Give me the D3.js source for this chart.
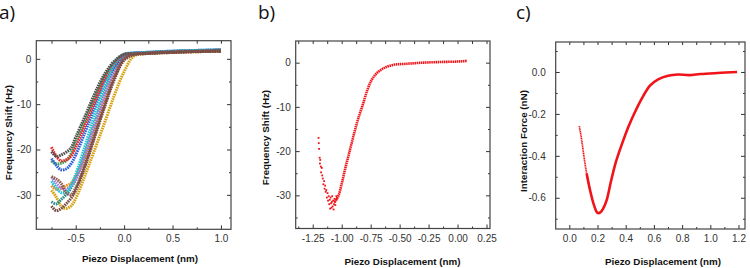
<!DOCTYPE html>
<html lang="en">
<head>
<meta charset="UTF-8">
<title>Piezo Displacement Curves</title>
<script src="https://d3js.org/d3.v7.min.js"></script>
<style>
  body { margin: 0; background: #fff; }
  svg { display: block; }
  .tick text { font-family: "Liberation Sans", Arial, sans-serif; font-size: 10px; fill: #333; }
  .tick line { stroke: #333; stroke-width: 1; }
  .title { font-family: "Liberation Sans", Arial, sans-serif; font-weight: bold; font-size: 9.8px; fill: #111; }
  .panel-label { font-family: "Open Sans", sans-serif; font-size: 19px; fill: #111; }
</style>
</head>
<body>
<div id="chart"></div>
<script>
// ---- panel a : approach curves, all sampled at the same displacements
var aX = [-0.75, -0.7, -0.65, -0.6, -0.55, -0.5, -0.4, -0.3, -0.2, -0.1, 0.0, 0.1, 0.2, 0.5, 1.0];
var aGold     = [-29, -30.5, -32.5, -33, -32.5, -30.8, -25.5, -19.8, -14, -8, -2.8, 0.6, 1.1, 1.4, 1.7];
var aOrange   = [-28, -28.8, -28.5, -28, -27.5, -26, -21.5, -15.5, -9.2, -3.5, 0.2, 1.0, 1.2, 1.5, 1.8];
var aGreen    = [-22.5, -23.2, -23, -22.5, -21, -18.5, -13.5, -8.5, -4, -0.8, 1.0, 1.2, 1.3, 1.6, 1.9];
var aTeal     = [-31.5, -32, -31, -30, -28.5, -26.5, -20.5, -14, -7.5, -2.2, 0.6, 1.1, 1.2, 1.5, 1.8];
var aLavender = [-26, -27.5, -28.5, -28.8, -28, -26.5, -21, -14.5, -8, -2.8, 0.5, 1.2, 1.3, 1.6, 1.9];
var aBlue     = [-22, -23.5, -24.5, -24.3, -23.2, -21.2, -16, -10.5, -5.5, -1.8, 0.8, 1.3, 1.4, 1.7, 2.0];
var aRed      = [-19.5, -21.5, -22.5, -22.3, -21.5, -19.5, -14.5, -9.3, -4.5, -1.2, 0.9, 1.2, 1.3, 1.6, 1.9];
var aCyan     = [-27, -28.5, -29.5, -29.5, -28, -25.5, -19, -12, -6, -1.2, 1.0, 1.3, 1.4, 1.7, 2.0];
var aGray     = [-20.5, -21.5, -21.2, -20.6, -19.7, -17.3, -12.5, -7.5, -3.3, -0.5, 1.0, 1.1, 1.2, 1.5, 1.8];
var aBrown    = [-26, -26.5, -27.5, -29.5, -30, -28.5, -23, -16.5, -10, -4, 0.0, 1.0, 1.2, 1.5, 1.7];
var aBrown2   = [-32.5, -33.5, -33, -32, -30.8, -29, -23.5, -17, -10.5, -4.5, -0.3, 0.9, 1.1, 1.4, 1.7];
var aSeries = [aGold, aOrange, aGreen, aTeal, aLavender, aBlue, aRed, aCyan, aGray, aBrown, aBrown2];
var aColors = ["#d4a20f", "#f5891a", "#3c9e58", "#2b8c8c", "#a57fdc", "#2f5fd9", "#e8262b", "#22c3d2", "#505050", "#8c5a4e", "#7a4a40"];

// ---- panel b : single approach curve
var bNoiseX = [-1.2, -1.198, -1.195, -1.19, -1.188, -1.185, -1.18, -1.178, -1.172, -1.168, -1.163, -1.158, -1.152, -1.148,
  -1.143, -1.138, -1.133, -1.128, -1.122, -1.118, -1.112, -1.108, -1.103, -1.1, -1.096, -1.092, -1.088, -1.085, -1.082,
  -1.078, -1.074, -1.07, -1.066, -1.062, -1.058, -1.055, -1.05, -1.046, -1.042];
var bNoiseY = [-17, -18.2, -19.5, -21.5, -22.8, -22, -23.5, -24.8, -23.8, -25.5, -26.2, -27.5, -26.8, -28.5,
  -27.8, -29.2, -28.8, -30.5, -29.5, -31.2, -30.2, -32, -31, -33, -30.5, -31.8, -32.8, -31.5, -30.2,
  -32.5, -31.2, -33.2, -32, -30.8, -31.5, -32.2, -31, -30.2, -30.8];
var bX = [-1.06, -1.03, -1.0, -0.972, -0.943, -0.914, -0.885, -0.857, -0.814, -0.779, -0.741, -0.698, -0.641, -0.555, -0.44, -0.3, -0.15, 0.0, 0.08];
var bY = [-31.5, -30.2, -27.4, -24.2, -21.2, -18.2, -15.2, -12.6, -9.2, -6.2, -3.9, -2.4, -1.3, -0.5, -0.25, 0, 0.15, 0.25, 0.4];

// ---- panel c : interaction force
var cX = [0.071, 0.088, 0.104, 0.123, 0.147, 0.175, 0.2, 0.22, 0.24, 0.265, 0.296, 0.33, 0.37, 0.42, 0.47, 0.52, 0.572, 0.63, 0.7, 0.77, 0.85, 0.93, 1.05, 1.19];
var cY = [-0.258, -0.325, -0.404, -0.484, -0.563, -0.635, -0.672, -0.670, -0.652, -0.611, -0.52, -0.43, -0.35, -0.26, -0.185, -0.12, -0.065, -0.035, -0.018, -0.012, -0.015, -0.01, -0.005, 0.0];

// ---- ticks
var aXTicks = [-0.5, 0, 0.5, 1.0], aXMinor = [-0.75, -0.25, 0.25, 0.75];
var aYTicks = [0, -10, -20, -30], aYMinor = [-35, -25, -15, -5];
var bXTicks = [-1.25, -1, -0.75, -0.5, -0.25, 0, 0.25], bXMinor = [-1.375, -1.125, -0.875, -0.625, -0.375, -0.125, 0.125];
var bYTicks = [0, -10, -20, -30], bYMinor = [-35, -25, -15, -5];
var cXTicks = [0, 0.2, 0.4, 0.6, 0.8, 1.0, 1.2], cXMinor = [0.1, 0.3, 0.5, 0.7, 0.9, 1.1];
var cYTicks = [0, -0.2, -0.4, -0.6], cYMinor = [0.1, -0.1, -0.3, -0.5, -0.7];

var svg = d3.select("#chart").append("svg").attr("width", 750).attr("height", 268);

function fmt(spec) {
  var f = d3.format(spec);
  return function (d) { return f(d).replace("\u2212", "-"); };
}

function panel(o) {
  var x = d3.scaleLinear().domain(o.xDomain).range([o.left, o.right]);
  var y = d3.scaleLinear().domain(o.yDomain).range([o.bottom, o.top]);
  var g = svg.append("g");

  o.draw(g, x, y);

  function strip(s) { s.select(".domain").remove(); }

  // major + minor ticks on all four sides, pointing inward
  g.append("g").attr("transform", "translate(0," + o.bottom + ")")
    .call(d3.axisBottom(x).tickValues(o.xTicks).tickFormat(fmt(o.xFmt)).tickSizeInner(-4).tickSizeOuter(0).tickPadding(6)).call(strip);
  g.append("g").attr("transform", "translate(0," + o.bottom + ")")
    .call(d3.axisBottom(x).tickValues(o.xMinor).tickFormat("").tickSizeInner(-2).tickSizeOuter(0)).call(strip);
  g.append("g").attr("transform", "translate(0," + o.top + ")")
    .call(d3.axisTop(x).tickValues(o.xTicks.concat(o.xMinor)).tickFormat("").tickSizeInner(-3).tickSizeOuter(0)).call(strip);
  g.append("g").attr("transform", "translate(" + o.left + ",0)")
    .call(d3.axisLeft(y).tickValues(o.yTicks).tickFormat(fmt(o.yFmt)).tickSizeInner(-4).tickSizeOuter(0).tickPadding(o.yPad)).call(strip);
  g.append("g").attr("transform", "translate(" + o.left + ",0)")
    .call(d3.axisLeft(y).tickValues(o.yMinor).tickFormat("").tickSizeInner(-2).tickSizeOuter(0)).call(strip);
  g.append("g").attr("transform", "translate(" + o.right + ",0)")
    .call(d3.axisRight(y).tickValues(o.yTicks).tickFormat("").tickSizeInner(-4).tickSizeOuter(0)).call(strip);
  g.append("g").attr("transform", "translate(" + o.right + ",0)")
    .call(d3.axisRight(y).tickValues(o.yMinor).tickFormat("").tickSizeInner(-2).tickSizeOuter(0)).call(strip);

  g.append("rect")
    .attr("x", o.left).attr("y", o.top)
    .attr("width", o.right - o.left).attr("height", o.bottom - o.top)
    .attr("fill", "none").attr("stroke", "#444").attr("stroke-width", 1.2);

  g.append("text").attr("class", "title")
    .attr("x", o.xTitle[0]).attr("y", o.xTitle[1]).attr("text-anchor", "middle").attr("dy", "0.35em")
    .text("Piezo Displacement (nm)");
  g.append("text").attr("class", "title")
    .attr("transform", "translate(" + o.yTitle[0] + "," + o.yTitle[1] + ") rotate(-90)")
    .attr("text-anchor", "middle").attr("dy", "0.35em")
    .text(o.yLabel);
  g.append("text").attr("class", "panel-label")
    .attr("x", o.tag[0]).attr("y", o.tag[1]).text(o.tagText);
}

// a)
panel({
  left: 36.3, right: 231, top: 40.7, bottom: 229.3,
  xDomain: [-0.907, 1.104], yDomain: [-37.6, 4],
  xTicks: aXTicks, xMinor: aXMinor, yTicks: aYTicks, yMinor: aYMinor,
  xFmt: ".1f", yFmt: "d", yPad: 5,
  xTitle: [140, 259], yTitle: [8.5, 132.5], yLabel: "Frequency Shift (Hz)",
  tag: [-1, 19], tagText: "a)",
  draw: function (g, x, y) {
    aSeries.forEach(function (vals, i) {
      var line = d3.line()
        .x(function (d, k) { return x(aX[k]); })
        .y(function (d) { return y(d); })
        .curve(d3.curveCatmullRom);
      g.append("path")
        .attr("d", line(vals))
        .attr("fill", "none")
        .attr("stroke", aColors[i])
        .attr("stroke-width", 3)
        .attr("stroke-dasharray", "1.6 0.8");
    });
  }
});

// b)
panel({
  left: 295.7, right: 490, top: 41, bottom: 228.5,
  xDomain: [-1.397, 0.28], yDomain: [-37.5, 4.9],
  xTicks: bXTicks, xMinor: bXMinor, yTicks: bYTicks, yMinor: bYMinor,
  xFmt: ".2f", yFmt: "d", yPad: 5,
  xTitle: [402.5, 261.5], yTitle: [265.7, 137.5], yLabel: "Frequency Shift (Hz)",
  tag: [258, 19], tagText: "b)",
  draw: function (g, x, y) {
    var line = d3.line()
      .x(function (d) { return x(d[0]); })
      .y(function (d) { return y(d[1]); })
      .curve(d3.curveCatmullRom);
    g.append("path")
      .attr("d", line(d3.zip(bX, bY)))
      .attr("fill", "none").attr("stroke", "#f0141a")
      .attr("stroke-width", 2.6).attr("stroke-dasharray", "1.5 0.6");
    g.selectAll(".dot").data(d3.zip(bNoiseX, bNoiseY)).enter().append("rect")
      .attr("x", function (d) { return x(d[0]) - 0.9; })
      .attr("y", function (d) { return y(d[1]) - 0.9; })
      .attr("width", 1.8).attr("height", 1.8)
      .attr("fill", "#f0141a");
  }
});

// c)
panel({
  left: 555.7, right: 745, top: 42, bottom: 229,
  xDomain: [-0.0965, 1.246], yDomain: [-0.749, 0.143],
  xTicks: cXTicks, xMinor: cXMinor, yTicks: cYTicks, yMinor: cYMinor,
  xFmt: ".1f", yFmt: ".1f", yPad: 10,
  xTitle: [663, 261.5], yTitle: [523.3, 141], yLabel: "Interaction Force (nN)",
  tag: [516, 19], tagText: "c)",
  draw: function (g, x, y) {
    var pts = d3.zip(cX, cY);
    var line = d3.line()
      .x(function (d) { return x(d[0]); })
      .y(function (d) { return y(d[1]); })
      .curve(d3.curveCatmullRom);
    // the steep start is sampled sparsely, so it reads as a thin dotted trace
    g.append("path")
      .attr("d", line(pts.slice(0, 5)))
      .attr("fill", "none").attr("stroke", "#f0141a")
      .attr("stroke-width", 1.7).attr("stroke-dasharray", "1.2 0.5");
    g.append("path")
      .attr("d", line(pts.slice(3)))
      .attr("fill", "none").attr("stroke", "#f0141a")
      .attr("stroke-width", 2.6);
  }
});
</script>
</body>
</html>
